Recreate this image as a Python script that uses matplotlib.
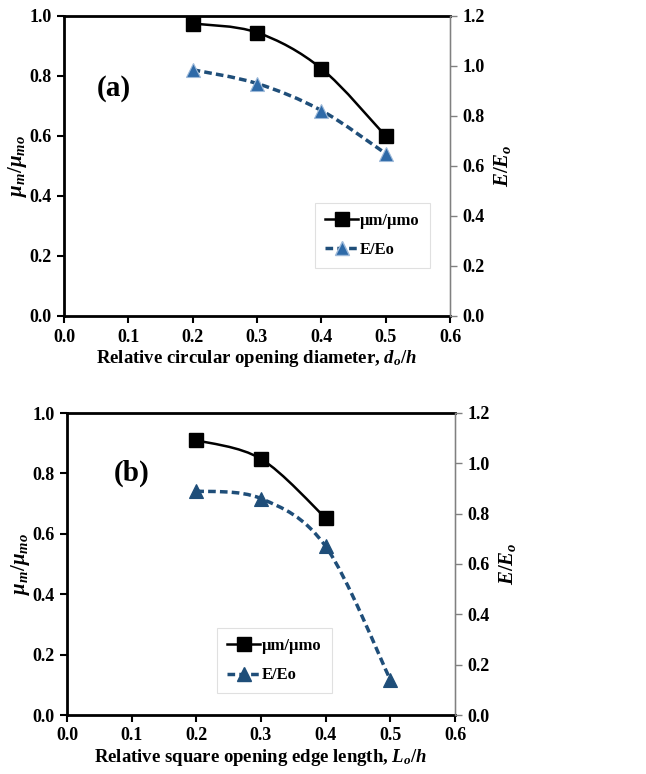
import numpy as np
import matplotlib.pyplot as plt
from matplotlib.path import Path
from matplotlib.patches import PathPatch
from matplotlib.lines import Line2D

plt.rcParams['font.family'] = ['Liberation Serif', 'DejaVu Serif']
plt.rcParams['font.weight'] = 'bold'
plt.rcParams['mathtext.fontset'] = 'custom'
plt.rcParams['mathtext.rm'] = 'Liberation Serif:bold'
plt.rcParams['mathtext.it'] = 'Liberation Serif:bold:italic'
plt.rcParams['mathtext.bf'] = 'Liberation Serif:bold'

# data (a) circular openings
x_a = [0.2, 0.3, 0.4, 0.5]
mu_a = [0.975, 0.945, 0.825, 0.600]
e_a = [0.985, 0.930, 0.822, 0.650]

# data (b) square openings
x_b_mu = [0.2, 0.3, 0.4]
mu_b = [0.910, 0.848, 0.652]
x_b_e = [0.2, 0.3, 0.4, 0.5]
e_b = [0.890, 0.860, 0.670, 0.140]

blue_line = '#1F4E79'
blue_mark_a = '#2E6AA8'


def smooth_path(x, y):
    # Excel style smoothed line as bezier segments
    p = np.column_stack([x, y]).astype(float)
    n = len(p)
    verts = [p[0]]
    codes = [Path.MOVETO]
    for i in range(n - 1):
        p0 = p[i - 1] if i > 0 else p[i]
        p3 = p[i + 2] if i + 2 < n else p[i + 1]
        c1 = p[i] + (p[i + 1] - p0) / 6
        c2 = p[i + 1] - (p3 - p[i]) / 6
        verts += [c1, c2, p[i + 1]]
        codes += [Path.CURVE4] * 3
    return Path(verts, codes)


def draw_panel(ax, x1, y1, x2, y2, label, label_pos, xlabel, mcolor, medge, leg_box):
    ax2 = ax.twinx()
    ax.set_xlim(0, 0.6)
    ax.set_ylim(0, 1.0)
    ax2.set_ylim(0, 1.2)
    ax.set_xticks(np.arange(0, 0.61, 0.1))
    ax.set_yticks(np.arange(0, 1.01, 0.2))
    ax2.set_yticks(np.arange(0, 1.21, 0.2))
    ax.xaxis.set_major_formatter(plt.FormatStrFormatter('%.1f'))
    ax.yaxis.set_major_formatter(plt.FormatStrFormatter('%.1f'))
    ax2.yaxis.set_major_formatter(plt.FormatStrFormatter('%.1f'))

    ax.add_patch(PathPatch(smooth_path(x1, y1), fill=False, ec='black', lw=1.8,
                           transform=ax.transData, zorder=3))
    ax.plot(x1, y1, ls='none', marker='s', ms=10, color='black', zorder=4)
    ax2.add_patch(PathPatch(smooth_path(x2, y2), fill=False, ec=blue_line, lw=2.5,
                            ls=(0, (2.2, 1.2)), transform=ax2.transData, zorder=3))
    ax2.plot(x2, y2, ls='none', marker='^', ms=10, color=mcolor, mec=medge,
             mew=0.8, zorder=4)

    for s in ['left', 'bottom', 'top']:
        ax.spines[s].set_linewidth(2)
        ax.spines[s].set_color('black')
    ax2.spines['right'].set_color('#808080')
    ax2.spines['right'].set_linewidth(1)
    for s in ['left', 'bottom', 'top']:
        ax2.spines[s].set_visible(False)
    ax.tick_params(axis='both', direction='out', length=5, width=1.5,
                   labelsize=13, pad=4)
    ax2.tick_params(axis='y', direction='out', length=5, width=1,
                    color='#808080', labelsize=13, pad=4)

    ax.set_xlabel(xlabel, fontsize=13.5, fontweight='bold', labelpad=2)
    ax.set_ylabel(r'$\mu_m/\mu_{mo}$', fontsize=15, labelpad=0)
    ax2.set_ylabel(r'$E/E_o$', fontsize=15, labelpad=5)
    ax.text(label_pos[0], label_pos[1], label, fontsize=21, fontweight='bold',
            va='center', transform=ax.transAxes, zorder=5)

    handles = [
        Line2D([], [], color='black', lw=1.8, marker='s', ms=10),
        Line2D([], [], color=blue_line, lw=2.5, ls=(0, (2.2, 1.2)), marker='^',
               ms=10, mfc=mcolor, mec=medge),
    ]
    leg = ax2.legend(handles, ['µm/µmo', 'E/Eo'], loc='upper left',
                     bbox_to_anchor=leg_box, frameon=True,
                     fancybox=False, edgecolor='#d9d9d9', handlelength=2.0,
                     handletextpad=0.1, borderpad=0.6, labelspacing=0.8,
                     borderaxespad=0, prop={'weight': 'bold', 'size': 12})
    leg.get_frame().set_linewidth(0.8)
    return ax2


fig = plt.figure(figsize=(6.46, 7.74), dpi=100)
ax_a = fig.add_axes([64 / 646, 1 - 316 / 774, 386 / 646, 300 / 774])
ax_b = fig.add_axes([67 / 646, 1 - 715 / 774, 388 / 646, 302 / 774])

draw_panel(ax_a, x_a, mu_a, x_a, e_a, '(a)', (0.085, 0.76),
           r'Relative circular opening diameter, $d_o/h$',
           blue_mark_a, '#9DB9D9', (0.65, 0.377))
draw_panel(ax_b, x_b_mu, mu_b, x_b_e, e_b, '(b)', (0.121, 0.80),
           r'Relative square opening edge length, $L_o/h$',
           blue_line, blue_line, (0.387, 0.288))

fig.savefig('out.png', dpi=100)
